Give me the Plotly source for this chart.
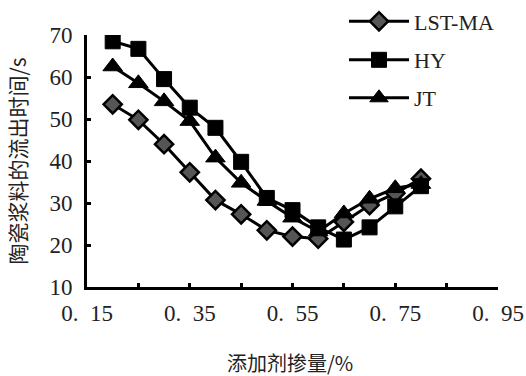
import plotly.graph_objects as go

x_vals = [0.20, 0.25, 0.30, 0.35, 0.40, 0.45, 0.50, 0.55, 0.60, 0.65, 0.70, 0.75, 0.80]
lst_ma = [53.5, 49.8, 44.0, 37.3, 30.7, 27.3, 23.5, 22.0, 21.5, 25.5, 29.5, 32.3, 35.8]
hy = [68.5, 66.7, 59.5, 52.7, 47.9, 39.8, 31.2, 28.3, 24.2, 21.3, 24.2, 29.2, 34.0]
jt = [62.5, 58.5, 54.2, 49.5, 40.8, 34.8, 30.5, 26.5, 23.2, 27.5, 31.0, 33.5, 34.5]

x_ticks = [0.15, 0.25, 0.35, 0.45, 0.55, 0.65, 0.75, 0.85, 0.95]
x_ticktext = ["0.\u200215", "", "0.\u200235", "", "0.\u200255", "", "0.\u200275", "", "0.\u200295"]
y_ticks = [10, 20, 30, 40, 50, 60, 70]

num_font = "Liberation Serif"
cjk_font = "Noto Sans CJK SC"

W, H = 526, 376
ML, MR, MT, MB = 87, 0, 35, 89
paper_w = W - ML - MR
paper_h = H - MT - MB
plot_right_px = 498

fig = go.Figure()
fig.add_trace(go.Scatter(
    x=x_vals, y=lst_ma, name="LST-MA", mode="lines+markers",
    line=dict(color="black", width=3),
    marker=dict(symbol="diamond", size=14, color="#555555", line=dict(color="black", width=2.5)),
    legend="legend"))
fig.add_trace(go.Scatter(
    x=x_vals, y=hy, name="HY", mode="lines+markers",
    line=dict(color="black", width=3),
    marker=dict(symbol="square", size=15, color="black", line=dict(color="black", width=1)),
    legend="legend2"))
fig.add_trace(go.Scatter(
    x=x_vals, y=jt, name="JT", mode="lines+markers",
    line=dict(color="black", width=3),
    marker=dict(symbol="triangle-up", size=17, color="black", line=dict(color="black", width=1)),
    legend="legend3"))

leg_common = dict(xanchor="left", xref="paper", yref="paper",
                  font=dict(family=num_font, size=22, color="#222222"),
                  itemwidth=60, bgcolor="rgba(0,0,0,0)", borderwidth=0)
leg_x = (344 - ML) / paper_w

fig.update_layout(
    width=W, height=H,
    margin=dict(l=ML, r=MR, t=MT, b=MB),
    paper_bgcolor="white", plot_bgcolor="white",
    font=dict(family=num_font, size=22, color="black"),
    showlegend=True,
    legend=dict(x=leg_x, y=1 + MT / paper_h - 0.002, yanchor="top", **leg_common),
    legend2=dict(x=leg_x, y=(287 - 60) / paper_h, yanchor="middle", **leg_common),
    legend3=dict(x=leg_x, y=(287 - 98) / paper_h, yanchor="middle", **leg_common),
    xaxis=dict(range=[0.15, 0.95], tickvals=x_ticks, ticktext=x_ticktext,
               domain=[0, (plot_right_px - ML) / paper_w],
               showline=True, linecolor="black", linewidth=3, mirror=False,
               ticks="inside", ticklen=4, tickwidth=3, tickcolor="black",
               showgrid=False, zeroline=False, automargin=False, ticklabelstandoff=3,
               tickfont=dict(family=num_font, size=23, color="#222222")),
    yaxis=dict(range=[10, 70], tickvals=y_ticks,
               showline=True, linecolor="black", linewidth=3, mirror=False,
               ticks="inside", ticklen=4, tickwidth=3, tickcolor="black",
               showgrid=False, zeroline=False, automargin=False, ticklabelstandoff=7,
               tickfont=dict(family=num_font, size=23, color="#222222"),
               title=dict(text="陶瓷浆料的流出时间/s", font=dict(family=cjk_font, size=21, color="#222222"), standoff=18)),
    annotations=[dict(text="添加剂掺量/%", xref="paper", yref="paper",
                      x=(290 - ML) / paper_w, y=-(362 - 287) / paper_h,
                      xanchor="center", yanchor="middle", showarrow=False,
                      font=dict(family=cjk_font, size=20, color="#222222"))],
)

fig.write_html("out.html")
